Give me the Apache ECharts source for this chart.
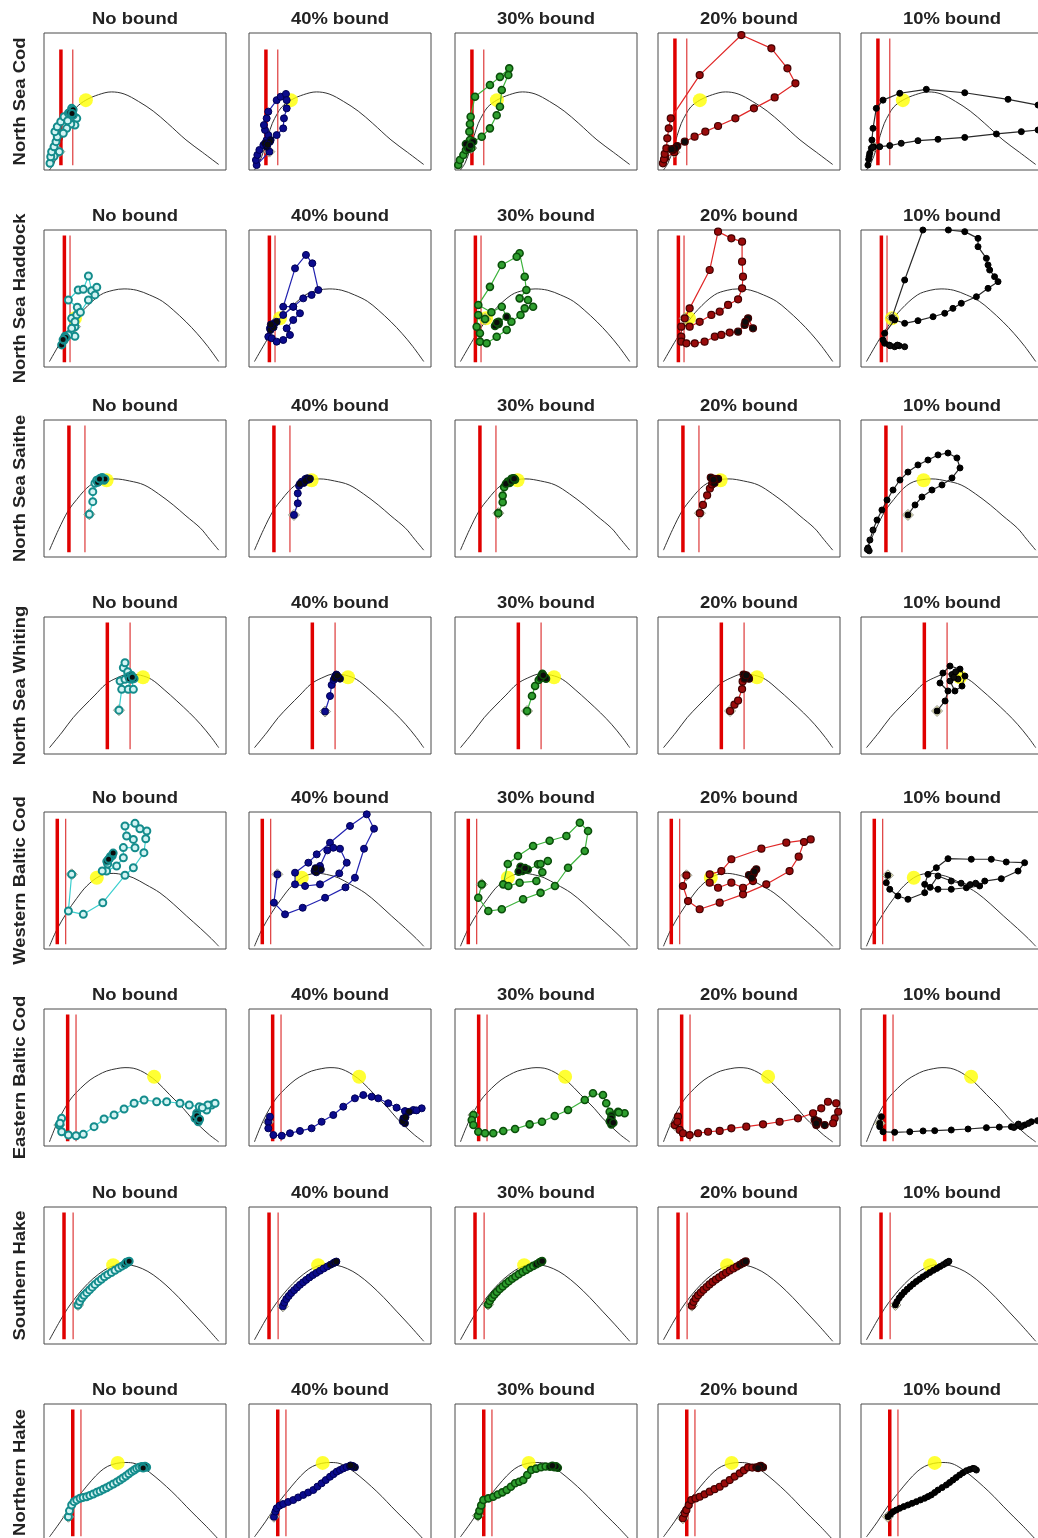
<!DOCTYPE html>
<html>
<head>
<meta charset="utf-8">
<script src="https://cdn.jsdelivr.net/npm/echarts@6/dist/echarts.min.js"></script>
<style>
  html, body { margin: 0; padding: 0; background: #ffffff; overflow: hidden; }
  #chart { width: 1060px; height: 1560px; }
</style>
</head>
<body>
<div id="chart"></div>
<script>
// Stocks (rows) and harvest-control bounds (columns)
const stocks = ['North Sea Cod', 'North Sea Haddock', 'North Sea Saithe', 'North Sea Whiting',
  'Western Baltic Cod', 'Eastern Baltic Cod', 'Southern Hake', 'Northern Hake'];
const bounds = ['No bound', '40% bound', '30% bound', '20% bound', '10% bound'];

// Surplus production curves, biomass (% of axis) vs production (% of axis)
const curveNSCod = [[3,0],[5.5,5],[8.2,14.6],[10.5,25],[12.8,34],[15.5,41],[18,46],[23,51],[30,55],[37,57],[44,55.5],[52,50],[60,43],[68,34],[78,22],[87,13],[96,4]];
const curveNSHaddock = [[3,4],[10,20],[16,32],[22,42],[31,52.6],[38,56],[44,57],[51,56],[58,52.6],[65,48],[71,41.6],[78,33],[84,24.6],[90,15],[96,4]];
const curveNSSaithe = [[3,5],[8,20],[13.4,34],[18,42],[21.6,47.7],[25,52],[29,55],[34,56.5],[39,57],[47,55.5],[55,52.6],[63,46],[71,38],[78,30],[86,21],[91,13],[96,5]];
const curveNSWhiting = [[3,4.6],[10,16],[16,26.5],[22,35],[28,43],[34,51],[40,55.5],[47,58.5],[53,57.5],[59,54.5],[66,47],[73,38.7],[80,30],[86,21.7],[92,12],[96,4.6]];
const curveWBCod = [[3,2],[7,14],[12.5,26.5],[18,37],[23.5,46],[30.8,53.3],[38,55.2],[44,54],[49,52],[56,47],[63.7,41],[71,33],[78.4,24],[86,15],[92,7.5],[96,2]];
const curveEBCod = [[3,3],[8,19],[14.3,33.6],[20,42],[25.3,48.2],[30,52],[34.4,54.7],[40,56.5],[44.5,57.2],[49,56.8],[53,55],[57,52],[62,47],[69,37.5],[76.5,27.5],[81,20.5],[86,14],[91,8],[96,3]];
const curveSHake = [[3,3],[8,15],[13,26],[18,35],[24,44],[30,51],[36,56],[42,58],[48,57.5],[54,55],[60,50.5],[67,43],[74,34],[81,24],[88,14],[96,2]];
const curveNHake = [[3,3],[9,14],[15.2,26.3],[21,36],[26,44],[30.8,50.6],[35,54.5],[40,56.7],[45,57.3],[50,56.5],[55,53],[61,47],[67.4,39.6],[73,32.5],[78.4,25],[84,17.5],[89.4,10.4],[96,1]];

// Reference points per stock: Blim (thick line), Bpa (thin line), MSY point
const blim = [9.3, 11.2, 13.7, 34.8, 7.3, 13.0, 11.0, 15.8];
const bpa = [15.8, 14.3, 22.5, 47.3, 11.9, 17.6, 16.0, 20.3];
const msyPoint = [[23,51],[17,35.5],[34.4,56],[54.4,56],[29,52],[60.5,50.5],[38,57.5],[40.5,57]];
const refLineBottom = 3.5;
const refLineTop = [
  [88, 88, 88, 96, 96], [96, 96, 96, 96, 96], [96, 96, 96, 96, 96], [96, 96, 96, 96, 96],
  [95, 95, 95, 95, 95], [96, 96, 96, 96, 96], [96, 96, 96, 96, 96], [96, 96, 96, 96, 96]
];

// Projected stock trajectories: North Sea Cod
const codNone = [[8.4,13.4],[5.5,10],[3.3,4.9],[3.7,9.7],[4.2,13.4],[5.5,17],[6.6,20.7],[7.3,24.3],[6,28],[7.3,31.6],[9.2,35.3],[11,38.9],[13.4,41.4],[15.2,45],[18,37.7],[17,32.8],[14.7,33.6],[12.5,30.4],[10.6,26.8],[13,36],[16.1,40.1],[15,43],[14.2,42],[16,44],[15.4,41.2]];
const cod40 = [[11.2,13.4],[4.2,3.6],[3.8,7.3],[4.6,11],[5.7,14.6],[7.9,18.2],[9.7,21.9],[10.6,25.5],[8.8,29.2],[8.2,32.8],[9.7,37.7],[10.6,42.6],[15.2,51],[17.4,53.5],[20.3,55.5],[20.7,51],[20.7,45],[19.2,37.7],[18.8,30.4],[15.2,25.5],[11.9,21.9],[9.7,17],[8.8,19.5],[11.5,20.7],[10.2,18.5]];
const cod30 = [[9,16],[1.8,3.6],[2.7,7.3],[4.6,11],[6,14.6],[7.3,18.2],[8.2,21.9],[7.9,28],[8.2,33.6],[8.6,38.9],[11,53.5],[19.2,62],[24.7,68],[29.8,74.2],[29.3,69.3],[25.7,58.4],[24.7,46.2],[22.9,40],[19.2,30.4],[14.7,24.3],[10,20.7],[7,16.5],[6,19],[7.5,15.5],[8.5,18]];
const cod20 = [[9,13],[4,9],[2.7,4.9],[3.3,7.8],[3.7,11.7],[4.6,15.8],[5.1,23.1],[5.9,30.4],[7,37.7],[22.9,69.3],[45.8,98.5],[62.3,88.8],[71.1,74.2],[75.5,63.3],[64.1,53],[52.7,45],[42.5,37.7],[33,32.1],[26,28],[20.1,24.3],[14.7,20.7],[10.6,17.5],[8.2,14.6],[9.5,16],[7.5,15.2]];
const cod10 = [[7,17],[5.7,15.8],[4.8,12.2],[4.2,7.8],[3.8,3.6],[4.5,10],[6,21.9],[6.6,30.4],[8.4,45],[12.1,51],[21.3,56],[35.9,58.9],[57,56.4],[80.8,51.6],[97.3,47.4],[108,44],[108,32],[97.3,29.2],[88.1,28],[74.4,26.3],[57,23.8],[42.3,22.4],[31.3,21.4],[22.1,19.5],[15.8,17.8],[10.3,17],[6.5,16.5]];

// North Sea Haddock
const hadNone = [[17,29.4],[15.2,35.5],[18,38],[18.3,43.6],[13.4,48.9],[18.8,56.2],[21.6,56.7],[24.4,66.4],[26.2,55.7],[29,58.2],[28,52.6],[24.4,48.9],[20,40],[17,33],[15.2,28.2],[17,22.4],[13.4,23.4],[11.5,22.4],[9.7,16.1],[11,19.5],[12,21.5],[10.5,20]];
const had40 = [[14,32],[11.5,28.2],[10.6,22.1],[12.5,21],[15.2,18.5],[18.8,19.7],[22.5,23.4],[20.7,28.2],[24.3,34.3],[28,39.2],[24.3,44],[18.8,44],[25.3,72],[31.3,81.8],[34.8,75.7],[38.1,56.2],[34.4,52.6],[29.8,50.1],[24.3,44],[18.8,38],[15.2,33],[13,30],[11.8,27],[13.5,29],[12,31]];
const had30 = [[16.5,35],[12.8,38],[11.9,29.4],[13.7,24.6],[13.7,18.5],[17.4,17.3],[22.9,22.1],[28.4,27],[31,33],[36,38],[38.3,42.8],[42.9,44],[40.1,48.9],[35.5,50.1],[39.2,56.2],[38.3,65.9],[35.5,83],[33.9,80.5],[25.7,74.5],[19.2,58.5],[12.8,45.3],[20,40],[25.7,44],[28.4,36.7],[24,33],[22,30],[24,31.5],[23,32.5]];
const had20 = [[14.7,35.5],[17.4,42.8],[28.4,70.8],[33,98.8],[40.3,93.9],[46.2,91.5],[46.2,76.9],[46.7,65.9],[46.2,57.4],[44,49.4],[38.5,45.3],[33.9,40.4],[29.3,38],[22.9,33],[17.4,29.4],[12.8,29.4],[12.8,22.1],[12.8,18.5],[15.6,17.3],[20.2,17.3],[25.6,18.5],[31.2,22.1],[34.8,23.4],[39.4,25.1],[44,25.8],[47.6,30.7],[49.5,35.5],[52.2,28.2],[48,33]];
const had10 = [[17,36],[24,63.5],[34,100],[40,101],[48,100],[57,98.8],[64.3,93.9],[64.3,87.8],[68.9,79.3],[69.8,74.5],[70.7,70.8],[73.4,65.9],[75.3,62.3],[69.8,57.4],[63.4,51.3],[55.1,46.5],[50.5,42.8],[46,39.2],[39.6,36.7],[31.3,33.8],[24,31.9],[18.5,34.3],[13,24.6],[12.1,19.7],[13,17.3],[15.5,16],[18.5,14.8],[21,15.5],[24,14.8],[20,16],[16,15.5]];

// North Sea Saithe
const saiNone = [[24.9,31.2],[26.8,40.4],[26.8,47.7],[28,53.8],[29,56],[31,57.5],[33,56],[30,55],[32,58],[29.5,54.5],[31.5,56.5],[33.5,57],[30.5,57]];
const sai40 = [[24.7,30.7],[26.8,39.2],[26.8,46.5],[27.5,52],[29,55],[31,57],[33,56.5],[30,54],[32,57.5],[28,53.5],[31,55.5],[33.5,57.2]];
const sai30 = [[23.8,32],[26.2,40],[26.2,44.8],[27,51],[29,55],[31,57],[33,56.5],[30,54],[32,57.5],[28,53.5],[31,55.5],[32.5,57.2]];
const sai20 = [[23,32],[24.7,38],[27,45],[28.5,50],[29.7,53],[31,57],[30,55],[32,56.5],[29,58],[33,57],[31,54],[30.5,56.5]];
const sai10 = [[25.8,30.7],[29.7,38],[33.5,43.8],[39,48.9],[44.5,52.6],[50,57.7],[54.4,65],[52.7,72.3],[47.8,75.9],[42.3,74.5],[36.8,70.8],[31.3,67.2],[25.8,62],[21.4,56.2],[17.6,48.9],[14.3,41.6],[11.5,34.3],[8.8,27],[6.6,19.7],[4.9,12.4],[3.8,6.6],[4.5,4.5],[3.5,5.5]];

// North Sea Whiting
const whiNone = [[41.2,32],[42.7,47.2],[41.8,53.3],[44.5,54.5],[43.6,63],[44.5,66.6],[46,60],[47.3,55.7],[46.3,47.2],[49.1,47.2],[48.2,54.5],[46.5,56.5],[48,57.5],[49.5,55],[47,55],[48.5,56]];
const whi40 = [[41.8,31],[44.5,42.3],[45.4,50.4],[46.5,54],[47.5,57],[49,56],[48,58],[50,55],[47,55.5],[48.5,57.2]];
const whi30 = [[39.6,31.4],[42.3,42.3],[44,49.6],[46,54],[47.5,57],[49,56],[48,58.5],[50,55],[47,55.5],[48.5,57.5]];
const whi20 = [[39.6,31.4],[42,36],[44,39],[46.2,47.4],[46.5,53],[48,57],[49.5,56],[47,58],[50,55],[47.5,55],[48.5,57.5]];
const whi10 = [[41.8,31.4],[46.2,38.7],[47.8,46],[43.4,51.8],[45,59.1],[48.9,64.2],[54.4,62],[57.1,56.9],[55.5,49.6],[51.6,46],[48.9,53.3],[53.3,54.7],[50,58],[52,60],[51,56]];

// Western Baltic Cod
const wbcNone = [[15.2,54.5],[13.4,27.7],[21.6,25.3],[32.3,33.8],[44.5,53.8],[49.1,59.3],[54.9,70.3],[55.9,80.5],[56.5,86.1],[52.7,87.8],[50,91.7],[44.5,89.8],[45.4,82.5],[49.1,80],[50,73.9],[43.6,74],[43.6,66.6],[39.9,60.6],[34.4,56.9],[32,57],[35,62],[36,66],[37.5,68],[34.5,64],[36.5,67.5],[38,70],[35.5,65.5]];
const wbc40 = [[15.6,54.5],[13.7,33.8],[19.8,25.3],[29.5,30.1],[41.8,37.4],[53,45],[58.2,52],[63.2,73.2],[68.7,87.8],[64.7,98.3],[55.5,89.8],[44.5,77.6],[37.2,69.1],[32.6,63],[25.3,55.7],[25.3,47.2],[30.8,46],[39,47.2],[49.6,55.2],[53.7,63],[50,73.2],[46.3,73.9],[43,72],[39,60.6],[36,57],[38,58.5],[37,56],[39.5,58],[36.5,59]];
const wbc30 = [[14.7,47.2],[12.8,37.4],[18.3,27.7],[25.7,29],[37.4,36.3],[47,41],[54.9,46],[62.1,59.3],[71.3,71.5],[73.1,86.1],[68.6,92.2],[61.2,82.5],[52,79],[42.9,75.2],[34.6,67.9],[29,62],[26.5,47.2],[29.3,46],[35.5,48.4],[44.7,49.6],[48,56],[45.6,61.8],[51,64.2],[47,62],[40,58],[37,57],[36,60],[38.5,59],[35,56.5]];
const wbc20 = [[15.6,53.8],[13.7,46],[16.5,35],[22.9,29],[33.9,33.8],[46.7,39.9],[59.5,47.2],[72.3,56.9],[77.3,67.4],[80.2,78.1],[83.9,80],[70.5,77.6],[56.8,73.2],[40.3,65.5],[34.8,56.9],[28.4,54.5],[28.4,48.4],[33,44.7],[40.3,48.4],[46.7,44.7],[52.2,49.6],[51.3,53.3],[54,58.2],[52.5,55],[50,54],[53,56.5],[51.5,52]];
const wbc10 = [[14.8,53.8],[13.9,48.4],[15.8,43.6],[20.3,38.7],[25.8,36.3],[35,41.1],[35,47.2],[36.8,54.5],[41.4,59.3],[47.8,65.9],[60.6,65.5],[71.6,65.5],[79.8,63.5],[89.9,63],[86.3,56.9],[77.1,51.3],[68,49.6],[65.2,46],[57.9,44.7],[49.6,43.6],[42.3,43.6],[38,45],[42.3,53.3],[49.6,49.6],[55,48],[60,47],[63,48]];

// Eastern Baltic Cod
const ebcNone = [[8.4,15.3],[9.7,20.2],[8.8,16.6],[9.7,10.4],[13.4,8],[17.6,7.5],[21.6,8.5],[27.5,14.1],[33,19.7],[38.5,22.6],[44,27],[49.5,31.2],[55,33.6],[61.9,32.3],[67.4,32.3],[74.7,31.2],[79.8,29.9],[85.3,28.7],[89.4,26.3],[92.1,29.9],[94,31.2],[90,30],[87,28],[83.9,23.9],[83,20.2],[84.8,17.7],[84,22],[85.5,19.5]];
const ebc40 = [[10.6,17.7],[11.5,21.4],[10.6,12.9],[13.4,8],[18,7.5],[22.5,9.3],[28,11],[34.4,12.9],[39.9,17.7],[46.3,22.6],[51.8,28.7],[58.2,34.8],[62.8,37.2],[67.4,36],[71,34.8],[76.5,31.2],[81.1,28],[85.7,25.5],[90.3,26.3],[94.9,27.5],[92,26],[88,25],[84.8,20.2],[85.7,16.6],[84.5,18],[86,21]];
const ebc30 = [[10.1,22.6],[9.2,19],[10.1,15.3],[12.8,10.4],[16.5,9.3],[21,9.3],[26.5,11],[33,12.4],[41,15.8],[47.8,17.7],[54.8,21.9],[62.1,26.3],[71.3,33.6],[75.8,38.5],[81.3,37.2],[83.1,31.2],[85,25],[89.6,25],[93.2,23.9],[90,24.5],[86,22],[85.9,20.2],[85.9,15.8],[85,18],[87,17]];
const ebc20 = [[9.2,15.3],[11,21.4],[10.6,17.7],[11.9,11.7],[13.7,9.3],[17.4,8],[22,9.3],[27.5,10.4],[33.9,11],[40.3,12.9],[48.5,14.1],[57.7,15.8],[66.8,17.7],[76.9,20.2],[85.2,23.9],[89.7,27.5],[93.4,32.3],[97.9,31.2],[99,25],[97.1,20.2],[96.2,16.6],[91.6,15.3],[87,15.3],[86.1,19],[88,18],[87,16.5]];
const ebc10 = [[10.3,16.6],[11.2,21.4],[10.3,14.1],[12.1,10.4],[18.5,10],[26.8,10.4],[34.1,11],[40.5,11.2],[49.6,11.7],[58.8,12.4],[68.9,13.4],[76,13.8],[82.6,14.1],[86,15],[89.9,15.3],[93.6,17.7],[97,18.5],[92,16.5],[88,14],[84,13.5],[86.5,16]];

// Southern Hake
const shkNone = [[18.7,28.5],[19.6,31],[20.8,33.5],[22,35.5],[23.5,37.5],[25,39.5],[26.5,41.5],[28,43.5],[29.8,45.5],[31.5,47.2],[33.2,49],[35,50.6],[37,52.2],[39,53.8],[41,55.4],[42.8,56.8],[44.3,58],[45.6,59.2],[46.5,60],[45.2,59.6],[46.8,60.4]];
const shk40 = [[18.6,27.5],[19.4,30.2],[20.5,32.8],[21.8,35],[23.2,37.2],[24.8,39.3],[26.4,41.3],[28,43.2],[29.7,45],[31.4,46.8],[33.2,48.6],[35.1,50.3],[37,51.9],[39,53.5],[41,55.1],[43,56.6],[44.8,57.9],[46.4,59],[47.6,59.8],[46.9,59.5],[48,60.2]];
const shk30 = [[18.2,28.8],[19.1,31.4],[20.3,33.8],[21.6,36],[23,38],[24.6,40.1],[26.2,42],[27.9,44],[29.6,45.8],[31.4,47.6],[33.2,49.3],[35.1,51],[37.1,52.6],[39.1,54.1],[41.1,55.6],[43,57],[44.8,58.2],[46.2,59.3],[47.4,60.1],[46.6,59.7],[47.9,60.5]];
const shk20 = [[18.6,28],[19.5,30.8],[20.7,33.3],[22,35.5],[23.5,37.6],[25,39.6],[26.7,41.6],[28.3,43.5],[30,45.3],[31.8,47],[33.6,48.7],[35.5,50.4],[37.4,52],[39.4,53.6],[41.4,55.1],[43.3,56.5],[45,57.8],[46.5,58.9],[47.7,59.8],[46.9,59.3],[48.2,60.3]];
const shk10 = [[18.9,28.5],[19.8,31],[21,33.6],[22.3,35.8],[23.8,37.9],[25.4,40],[27,41.9],[28.7,43.8],[30.4,45.6],[32.2,47.3],[34,49],[35.9,50.6],[37.8,52.2],[39.8,53.8],[41.7,55.2],[43.5,56.6],[45.2,57.9],[46.7,59],[47.9,59.9],[47,59.4],[48.3,60.4]];

// Northern Hake
const nhkNone = [[13.4,17.7],[14,22],[15.2,26.3],[16.5,28.7],[18,30],[19.8,31.2],[21.5,31.8],[23.4,32.3],[25.2,33.3],[27.1,34.3],[29,35.5],[30.8,36.5],[32.6,37.7],[34.4,38.9],[36.2,40.2],[38.1,41.6],[40,43],[41.8,44.5],[43.4,46],[45,47.4],[46.6,49],[48.2,50.6],[49.6,51.8],[50.9,53],[52.3,53.8],[53.7,54.3],[55,54.1],[56.4,53.8],[55.5,54.6],[54.5,53.2]];
const nhk40 = [[13.7,17.7],[14.5,21.5],[15.2,23.9],[16.8,25.8],[18.8,27],[21.5,28.5],[24.3,29.9],[27,31.8],[29.8,33.6],[32.5,35.4],[35.3,37.2],[37.6,39.7],[39.9,42.1],[42.2,44.5],[44.5,46.9],[46.4,48.8],[48.2,50.6],[50,51.8],[51.8,53],[53.6,54],[55.5,54.7],[56.9,54.4],[58.2,53.8],[57,54.8],[55.8,55.2]];
const nhk30 = [[12.6,18.5],[13.4,22],[14.4,26],[15.6,29.9],[18.3,31.1],[21,32.3],[23.5,33.9],[26,35.5],[28.4,37.2],[30.7,39.6],[33,42.1],[35.3,43.3],[37.5,44.5],[39.7,48.2],[41.9,51.8],[44.6,52.8],[47.3,53.8],[49.8,54.4],[52.2,54.2],[54.6,53.8],[56.5,53.5],[55.5,54.5],[53.5,54.9]];
const nhk20 = [[13.7,16.6],[14.7,20.2],[15.6,22.6],[16.9,26.2],[18.3,29.9],[20.6,31.1],[22.9,32.3],[25.6,34.1],[28.4,36],[31.1,37.8],[33.9,39.6],[36.6,42],[39.4,44.5],[42.1,47],[44.9,49.4],[47.2,51.6],[49.5,53.8],[51.8,53.6],[54,53.8],[55.8,54.4],[57.7,53.8],[56.5,54.8],[55,53.2]];
const nhk10 = [[14.8,17.7],[16.2,19.5],[17.6,21.4],[19.4,22.6],[21.3,23.9],[23.5,25.1],[25.8,26.3],[28.1,27.5],[30.4,28.7],[32.7,30],[35,31.2],[36.8,32.4],[38.6,33.6],[40.5,35.4],[42.3,37.2],[44.6,39],[46.9,40.9],[48.7,42.7],[50.5,44.5],[52.3,46.3],[54.2,48.2],[56,49.8],[57.9,51.3],[59.7,52.2],[61.5,53],[63.4,51.8],[62.4,52.8]];

// Tables assembled from the named arrays above
const curves = [curveNSCod, curveNSHaddock, curveNSSaithe, curveNSWhiting, curveWBCod, curveEBCod, curveSHake, curveNHake];
const trajectories = [
  [codNone, cod40, cod30, cod20, cod10],
  [hadNone, had40, had30, had20, had10],
  [saiNone, sai40, sai30, sai20, sai10],
  [whiNone, whi40, whi30, whi20, whi10],
  [wbcNone, wbc40, wbc30, wbc20, wbc10],
  [ebcNone, ebc40, ebc30, ebc20, ebc10],
  [shkNone, shk40, shk30, shk20, shk10],
  [nhkNone, nhk40, nhk30, nhk20, nhk10]
];

// Layout of the panel grid (pixels)
const colLeft = [44, 249, 455, 658, 861];
const rowTop = [33, 230, 420, 617, 812, 1009, 1207, 1404];
const boxW = 182, boxH = 137;

// Marker / line style per bound column
const colStyle = [
  { line: '#3ccfcf', fill: '#d4f4f4', border: '#148c8c', bw: 2, size: 7 },
  { line: '#2323b0', fill: '#0b0b8c', border: '#000055', bw: 1, size: 7 },
  { line: '#3db33d', fill: '#2f9f2f', border: '#0b4f0b', bw: 1.6, size: 7 },
  { line: '#e02828', fill: '#990b0b', border: '#430000', bw: 1.2, size: 7 },
  { line: '#2a2a2a', fill: '#000000', border: '#000000', bw: 1, size: 6 }
];
const tailCount = 5;
const labelFont = 'bold 16px "Liberation Sans", Arial, sans-serif';

const grids = [], xAxes = [], yAxes = [], series = [], graphics = [];

stocks.forEach((stock, r) => {
  graphics.push({
    type: 'text', x: 21, y: rowTop[r] + boxH / 2, rotation: Math.PI / 2, scaleX: 1.15,
    style: { text: stock, font: labelFont, fill: '#222',
      textAlign: 'center', textVerticalAlign: 'middle', verticalAlign: 'middle' }
  });
  bounds.forEach((bound, c) => {
    const idx = r * 5 + c;
    const st = colStyle[c];
    grids.push({ left: colLeft[c], top: rowTop[r], width: boxW, height: boxH, show: true,
      borderColor: '#4a4a4a', borderWidth: 1, backgroundColor: '#ffffff' });
    xAxes.push({ gridIndex: idx, type: 'value', min: 0, max: 100, show: false });
    yAxes.push({ gridIndex: idx, type: 'value', min: 0, max: 100, show: false });
    graphics.push({
      type: 'text', x: colLeft[c] + boxW / 2, y: rowTop[r] - 13.5, scaleX: 1.15,
      style: { text: bound, font: labelFont, fill: '#222',
        textAlign: 'center', textVerticalAlign: 'middle', verticalAlign: 'middle' }
    });
    const ax = { xAxisIndex: idx, yAxisIndex: idx, silent: true, animation: false };
    // production curve
    series.push(Object.assign({ type: 'line', data: curves[r], smooth: 0.35, showSymbol: false,
      lineStyle: { color: '#333', width: 1 }, z: 1 }, ax));
    // Blim and Bpa reference lines
    series.push(Object.assign({ type: 'line', data: [[blim[r], refLineBottom], [blim[r], refLineTop[r][c]]],
      showSymbol: false, lineStyle: { color: '#e00000', width: 3.5 }, z: 2 }, ax));
    series.push(Object.assign({ type: 'line', data: [[bpa[r], refLineBottom], [bpa[r], refLineTop[r][c]]],
      showSymbol: false, lineStyle: { color: '#e04848', width: 1.3 }, z: 2 }, ax));
    // MSY point
    series.push(Object.assign({ type: 'scatter', data: [msyPoint[r]], symbolSize: 14,
      itemStyle: { color: '#ffff00' }, z: 3 }, ax));
    const traj = trajectories[r][c];
    // starting year marker
    series.push(Object.assign({ type: 'scatter', data: [traj[0]], symbol: 'diamond', symbolSize: 11,
      itemStyle: { color: '#f6f6b4', borderColor: '#7a7a7a', borderWidth: 1 }, z: 4 }, ax));
    // trajectory, final years drawn dark
    const items = traj.map((p, i) => i >= traj.length - tailCount
      ? { value: p, itemStyle: { color: '#0c0c0c', borderColor: st.border } }
      : { value: p });
    series.push(Object.assign({ type: 'line', data: items, symbol: 'circle', symbolSize: st.size,
      showSymbol: true, showAllSymbol: true,
      lineStyle: { color: st.line, width: 1.2 },
      itemStyle: { color: st.fill, borderColor: st.border, borderWidth: st.bw }, z: 5 }, ax));
  });
});

const chart = echarts.init(document.getElementById('chart'), null, { renderer: 'canvas' });
chart.setOption({
  backgroundColor: '#ffffff',
  animation: false,
  grid: grids,
  xAxis: xAxes,
  yAxis: yAxes,
  series: series,
  graphic: graphics
});
</script>
</body>
</html>
